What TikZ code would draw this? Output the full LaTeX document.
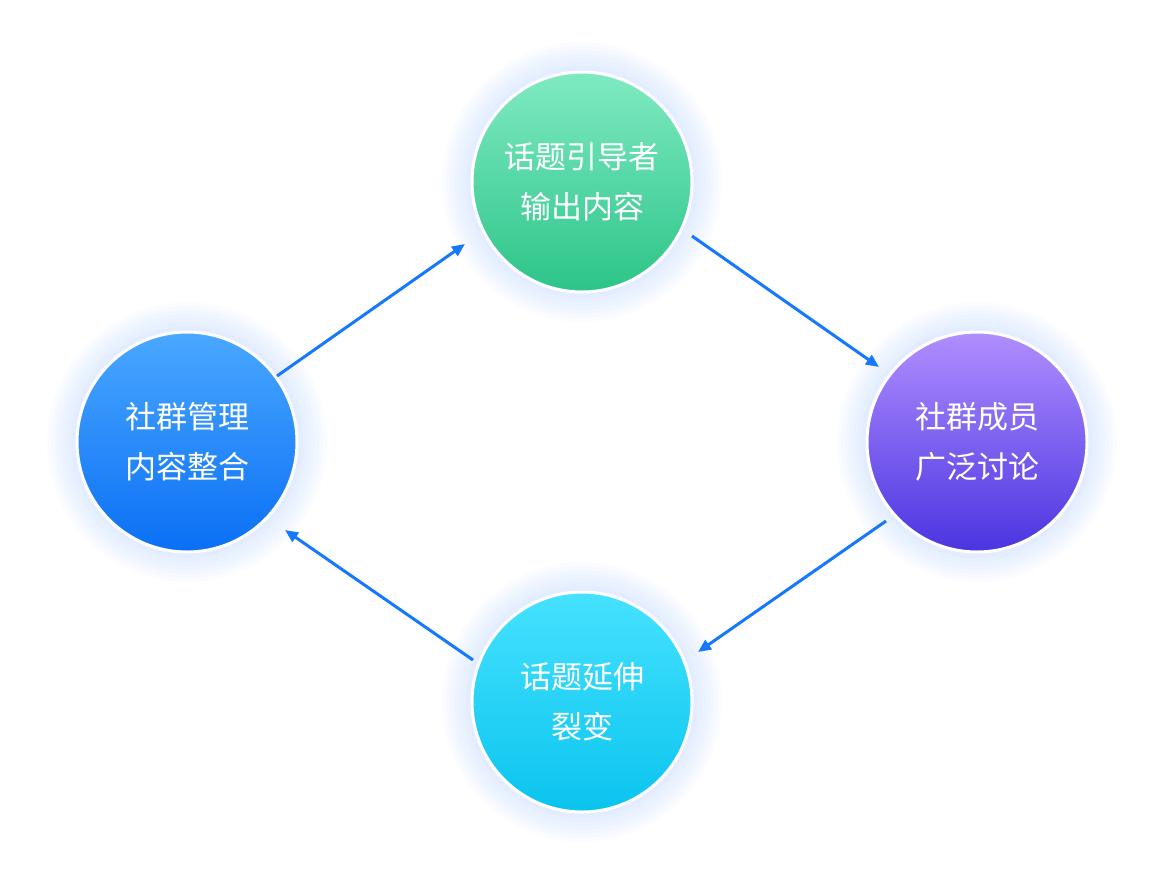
\documentclass[tikz,border=0pt]{standalone}
\usepackage{fontspec}
\newfontfamily\cjk{Noto Sans CJK SC}
\usetikzlibrary{arrows.meta}
\definecolor{arr}{HTML}{1677FF}
\definecolor{glow}{HTML}{8FB8FF}
\tikzset{
  bub/.style={circle,minimum size=220pt,draw=white,line width=3pt,text=white,font=\cjk\fontsize{31}{50}\selectfont,align=center},
  con/.style={draw=arr,line width=3pt,-{Triangle[length=13pt,width=11pt]}}
}
\begin{document}
\begin{tikzpicture}[x=1pt,y=-1pt]
\useasboundingbox (0,0) rectangle (1164,892);
\foreach \cx/\cy in {582/182,187/442,977/442,582/702}{
  \foreach \r in {112,116,...,140}{
    \fill[glow,opacity=0.04] (\cx,\cy) circle (\r);
  }
}
\node[bub,top color={rgb,255:red,128;green,234;blue,194},bottom color={rgb,255:red,44;green,196;blue,136}] (t) at (582,182) {话题引导者\\输出内容};
\node[bub,top color={rgb,255:red,74;green,168;blue,255},bottom color={rgb,255:red,10;green,111;blue,245}] (l) at (187,442) {社群管理\\内容整合};
\node[bub,top color={rgb,255:red,176;green,142;blue,255},bottom color={rgb,255:red,74;green,52;blue,224}] (r) at (977,442) {社群成员\\广泛讨论};
\node[bub,top color={rgb,255:red,70;green,226;blue,255},bottom color={rgb,255:red,10;green,196;blue,238}] (b) at (582,702) {话题延伸\\裂变};
\coordinate (a1s) at (277,376); \coordinate (a1e) at (465,244);
\coordinate (a2s) at (692,236); \coordinate (a2e) at (879,367);
\coordinate (a3s) at (886,521); \coordinate (a3e) at (698,652);
\coordinate (a4s) at (473,660); \coordinate (a4e) at (285,530);
\draw[con] (a1s) -- (a1e);
\draw[con] (a2s) -- (a2e);
\draw[con] (a3s) -- (a3e);
\draw[con] (a4s) -- (a4e);
\end{tikzpicture}
\end{document}
